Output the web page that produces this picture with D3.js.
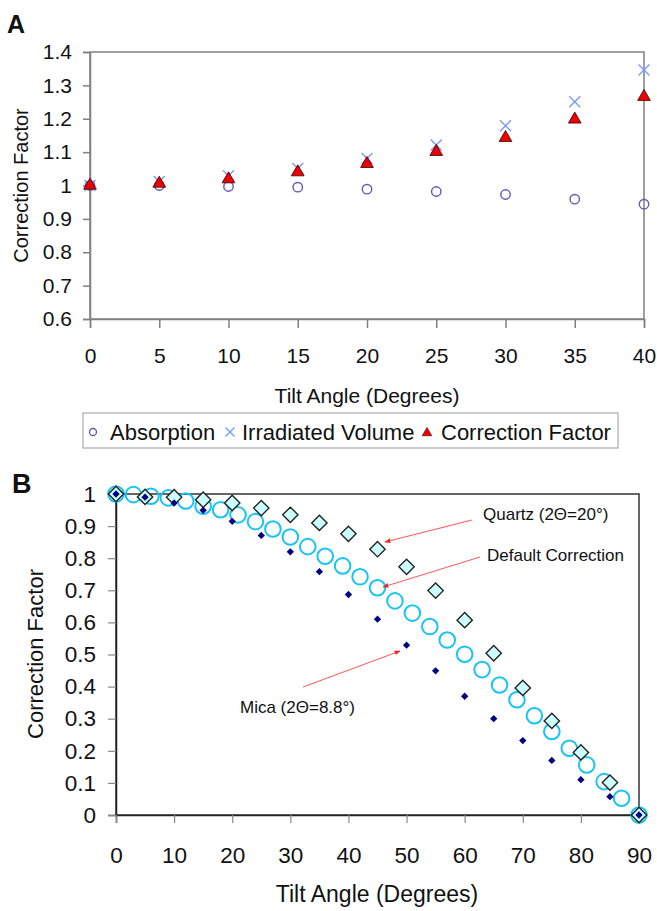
<!DOCTYPE html>
<html><head><meta charset="utf-8">
<script src="https://cdn.jsdelivr.net/npm/d3@7"></script>
<style>body{margin:0;background:#fff}svg{display:block}text{font-family:"Liberation Sans",Arial,sans-serif;fill:#111}</style>
</head><body><svg id="c" width="657" height="911"></svg>
<script>
// Panel A data
const anglesA = [0,5,10,15,20,25,30,35,40];
const absorption = [1.0,1.0,0.997,0.995,0.989,0.982,0.973,0.959,0.944];
const irradiated = [1.0,1.012,1.029,1.051,1.081,1.121,1.179,1.251,1.346];
const correctionA = [1.0,1.006,1.019,1.040,1.065,1.101,1.143,1.198,1.266];
const yTicksA = [0.6,0.7,0.8,0.9,1,1.1,1.2,1.3,1.4];
const xTicksA = [0,5,10,15,20,25,30,35,40];
const legendA = ["Absorption","Irradiated Volume","Correction Factor"];
// Panel B data
const anglesB = [0,5,10,15,20,25,30,35,40,45,50,55,60,65,70,75,80,85,90];
const quartz = [1.0,0.991,0.99,0.982,0.972,0.956,0.935,0.91,0.876,0.828,0.773,0.699,0.607,0.504,0.396,0.293,0.195,0.101,0.0];
const mica = [1.0,0.99,0.972,0.949,0.915,0.871,0.82,0.758,0.687,0.61,0.529,0.449,0.37,0.30,0.232,0.17,0.11,0.057,0.0];
const anglesDefault = [0,3,6,9,12,15,18,21,24,27,30,33,36,39,42,45,48,51,54,57,60,63,66,69,72,75,78,81,84,87,90];
const defaultCorr = [1.0,0.998,0.993,0.988,0.978,0.962,0.951,0.935,0.914,0.891,0.866,0.836,0.806,0.776,0.742,0.708,0.667,0.629,0.587,0.545,0.501,0.453,0.405,0.359,0.309,0.26,0.208,0.156,0.104,0.052,0.0];
const yTicksB = [0,0.1,0.2,0.3,0.4,0.5,0.6,0.7,0.8,0.9,1];
const xTicksB = [0,10,20,30,40,50,60,70,80,90];

const svg = d3.select("#c");

// ---------- Panel A ----------
const A = {l:90, r:644, t:52, b:319};
const xA = d3.scaleLinear().domain([0,40]).range([A.l, A.r]);
const yA = d3.scaleLinear().domain([0.6,1.4]).range([A.b, A.t]);
const gA = svg.append("g");
gA.append("text").attr("x",7).attr("y",33).style("font-size","25px").style("font-weight","bold").text("A");
gA.append("rect").attr("x",A.l).attr("y",A.t).attr("width",A.r-A.l).attr("height",A.b-A.t)
  .attr("fill","none").attr("stroke","#808080").attr("stroke-width",1.5);
const axYA = gA.append("g").attr("transform",`translate(${A.l},0)`)
  .call(d3.axisLeft(yA).tickValues(yTicksA).tickSize(7).tickPadding(11).tickFormat(d=>String(+d.toFixed(1))));
const axXA = gA.append("g").attr("transform",`translate(0,${A.b})`)
  .call(d3.axisBottom(xA).tickValues(xTicksA).tickSize(9).tickPadding(20));
[axYA,axXA].forEach(a=>{a.select(".domain").attr("stroke","#808080").attr("stroke-width",1.5);
  a.selectAll(".tick line").attr("stroke","#808080").attr("stroke-width",1.5);
  a.selectAll(".tick text").style("font-size","21px").style("font-family","Liberation Sans, Arial").attr("fill","#111");});
gA.append("text").attr("transform",`translate(28,${(A.t+A.b)/2}) rotate(-90)`).attr("text-anchor","middle")
  .style("font-size","20px").text("Correction Factor");
gA.append("text").attr("x",367).attr("y",403).attr("text-anchor","middle").style("font-size","21px").text("Tilt Angle (Degrees)");

const circleColA = "#5b5bb5", xColA = "#7a99ff";
const triPath = d3.symbol().type(d3.symbolTriangle).size(70)();
function drawX(g, cx, cy, s, col){
  g.append("path").attr("d",`M${cx-s},${cy-s}L${cx+s},${cy+s}M${cx-s},${cy+s}L${cx+s},${cy-s}`)
   .attr("stroke",col).attr("stroke-width",1.4).attr("fill","none");
}
anglesA.forEach((a,i)=>{ drawX(gA, xA(a), yA(irradiated[i]), 5.5, xColA); });
gA.selectAll("circle.abs").data(anglesA).join("circle").attr("class","abs")
  .attr("cx",d=>xA(d)).attr("cy",(d,i)=>yA(absorption[i])).attr("r",4.7)
  .attr("fill","none").attr("stroke",circleColA).attr("stroke-width",1.4);
gA.selectAll("path.tri").data(anglesA).join("path").attr("class","tri")
  .attr("d",triPath).attr("transform",(d,i)=>`translate(${xA(d)},${yA(correctionA[i])})`)
  .attr("fill","#ee0000").attr("stroke","#3a0000").attr("stroke-width",0.8);

// legend
const lg = svg.append("g");
lg.append("rect").attr("x",83).attr("y",413).attr("width",535).attr("height",35).attr("fill","#fff").attr("stroke","#999").attr("stroke-width",1);
lg.append("circle").attr("cx",93).attr("cy",432).attr("r",3.5).attr("fill","none").attr("stroke",circleColA).attr("stroke-width",1.3);
lg.append("text").attr("x",110).attr("y",440).style("font-size","22px").text(legendA[0]);
drawX(lg, 230, 432, 4.5, xColA);
lg.append("text").attr("x",242).attr("y",440).style("font-size","22px").text(legendA[1]);
lg.append("path").attr("d",d3.symbol().type(d3.symbolTriangle).size(40)()).attr("transform","translate(427,433)")
  .attr("fill","#ee0000").attr("stroke","#3a0000").attr("stroke-width",0.6);
lg.append("text").attr("x",441).attr("y",440).style("font-size","22px").text(legendA[2]);

// ---------- Panel B ----------
const B = {l:116, r:639, t:494, b:815};
const xB = d3.scaleLinear().domain([0,90]).range([B.l, B.r]);
const yB = d3.scaleLinear().domain([0,1]).range([B.b, B.t]);
const gB = svg.append("g");
gB.append("text").attr("x",12).attr("y",493).style("font-size","27px").style("font-weight","bold").text("B");
gB.append("rect").attr("x",B.l).attr("y",B.t).attr("width",B.r-B.l).attr("height",B.b-B.t)
  .attr("fill","none").attr("stroke","#333").attr("stroke-width",1.5);
const axYB = gB.append("g").attr("transform",`translate(${B.l},0)`)
  .call(d3.axisLeft(yB).tickValues(yTicksB).tickSize(8).tickPadding(12).tickFormat(d=>String(+d.toFixed(1))));
const axXB = gB.append("g").attr("transform",`translate(0,${B.b})`)
  .call(d3.axisBottom(xB).tickValues(xTicksB).tickSize(8).tickPadding(24));
[axYB,axXB].forEach(a=>{a.select(".domain").attr("stroke","#222").attr("stroke-width",1.5);
  a.selectAll(".tick line").attr("stroke","#888").attr("stroke-width",1.2);
  a.selectAll(".tick text").style("font-size","22.5px").style("font-family","Liberation Sans, Arial").attr("fill","#111");});
gB.append("text").attr("transform",`translate(43,654) rotate(-90)`).attr("text-anchor","middle")
  .style("font-size","22px").text("Correction Factor");
gB.append("text").attr("x",377).attr("y",902).attr("text-anchor","middle").style("font-size","23px").text("Tilt Angle (Degrees)");

// default correction circles
gB.selectAll("circle.def").data(anglesDefault).join("circle").attr("class","def")
  .attr("cx",d=>xB(d)).attr("cy",(d,i)=>yB(defaultCorr[i])).attr("r",7.8)
  .attr("fill","none").attr("stroke","#18c4f4").attr("stroke-width",2);
// quartz diamonds
const bigD = d3.symbol().type(d3.symbolDiamond2).size(150)();
gB.selectAll("path.qz").data(anglesB).join("path").attr("class","qz").attr("d",bigD)
  .attr("transform",(d,i)=>`translate(${xB(d)},${yB(quartz[i])})`)
  .attr("fill","#ccffff").attr("stroke","#222").attr("stroke-width",1.4);
// mica small diamonds
const smD = d3.symbol().type(d3.symbolDiamond2).size(34)();
gB.selectAll("path.mc").data(anglesB).join("path").attr("class","mc").attr("d",smD)
  .attr("transform",(d,i)=>`translate(${xB(d)},${yB(mica[i])})`)
  .attr("fill","#000080");

// annotations
const defs = svg.append("defs");
defs.append("marker").attr("id","arr").attr("viewBox","0 0 10 10").attr("refX",9).attr("refY",5)
  .attr("markerWidth",6).attr("markerHeight",6).attr("orient","auto")
  .append("path").attr("d","M0,1L10,5L0,9Z").attr("fill","#ff2222");
const ann = [
  {text:"Quartz (2Θ=20°)", tx:483, ty:520, x1:472, y1:520, x2:385, y2:542},
  {text:"Default Correction", tx:487, ty:561, x1:480, y1:557, x2:383, y2:587},
  {text:"Mica (2Θ=8.8°)", tx:240, ty:713, x1:303, y1:687, x2:400, y2:651}
];
ann.forEach(a=>{
  gB.append("line").attr("x1",a.x1).attr("y1",a.y1).attr("x2",a.x2).attr("y2",a.y2)
    .attr("stroke","#ff5555").attr("stroke-width",1).attr("marker-end","url(#arr)");
  gB.append("text").attr("x",a.tx).attr("y",a.ty).style("font-size","17px").attr("fill","#222").text(a.text);
});
</script></body></html>
